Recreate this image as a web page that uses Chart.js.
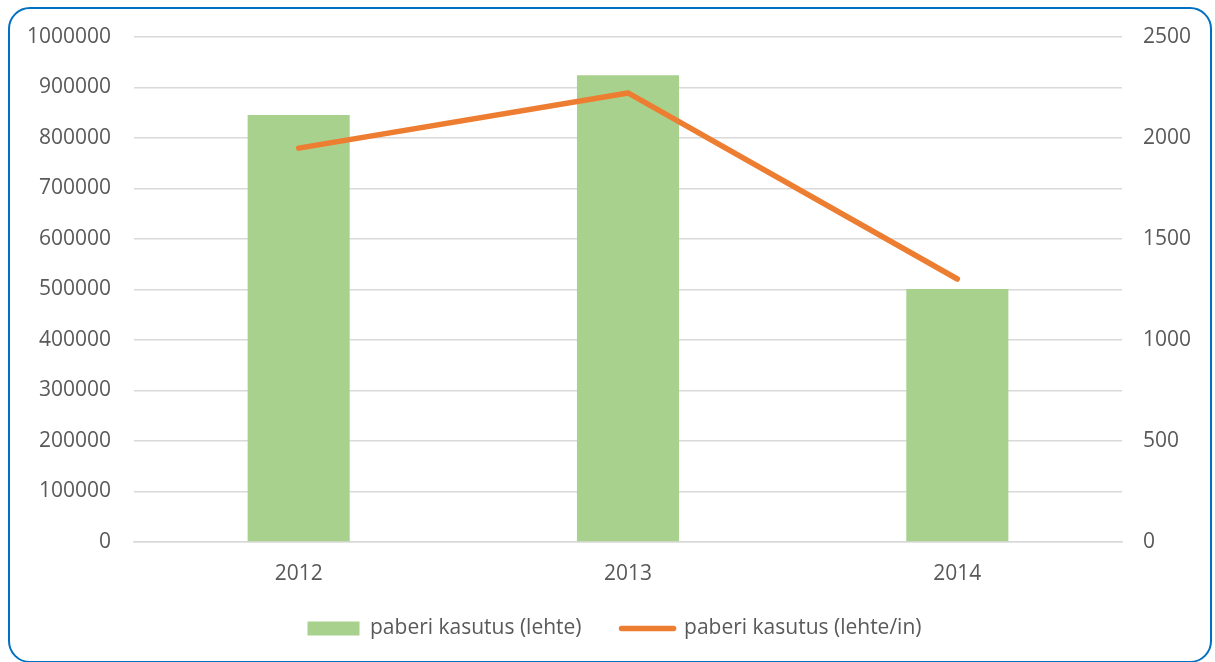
<!DOCTYPE html>
<html>
<head>
<meta charset="utf-8">
<script src="https://cdn.jsdelivr.net/npm/chart.js@4.4.1/dist/chart.umd.min.js"></script>
<style>
  html, body { margin: 0; padding: 0; background: #fff; }
  #wrap { position: relative; width: 1215px; height: 662px; overflow: hidden; }
  #frame { position: absolute; left: 8px; top: 7px; width: 1204px; height: 656px; box-sizing: border-box;
           border: 2.5px solid #0070C0; border-radius: 22px; pointer-events: none; }
  canvas { position: absolute; left: 0; top: 0; }
</style>
</head>
<body>
<div id="wrap">
  <canvas id="c" width="1215" height="662"></canvas>
  <div id="frame"></div>
</div>
<script>
const categories = ['2012', '2013', '2014'];
const sheetsUsed = [845500, 924500, 501000];
const sheetsPerPerson = [1950, 2223, 1302];
const barLabel = 'paberi kasutus (lehte)';
const lineLabel = 'paberi kasutus (lehte/in)';

const FONT = "'Open Sans', sans-serif";
const TXT = '#595959';
const GRID = '#d9d9d9';
const FS = 21;

new Chart(document.getElementById('c'), {
  data: {
    labels: categories,
    datasets: [
      {
        type: 'line', label: lineLabel, data: sheetsPerPerson, yAxisID: 'y2',
        borderColor: '#ED7D31', backgroundColor: '#ED7D31', borderWidth: 5.5,
        borderCapStyle: 'round', borderJoinStyle: 'round',
        pointRadius: 0, pointHoverRadius: 0, tension: 0, order: 0
      },
      {
        type: 'bar', label: barLabel, data: sheetsUsed, yAxisID: 'y',
        backgroundColor: '#A9D18E', borderWidth: 0,
        categoryPercentage: 1.0, barPercentage: 0.31, order: 1
      }
    ]
  },
  options: {
    responsive: false, animation: false,
    layout: { padding: { top: 37, bottom: 13, left: 14, right: 0 } },
    plugins: {
      tooltip: { enabled: false },
      legend: {
        position: 'bottom', reverse: true,
        labels: {
          font: { family: FONT, size: FS }, color: TXT,
          usePointStyle: true, pointStyleWidth: 52, boxHeight: 14, padding: 40,
          generateLabels(chart) {
            return chart.data.datasets.map((ds, i) => ({
              text: ds.label, datasetIndex: i, fontColor: TXT,
              fillStyle: ds.backgroundColor,
              strokeStyle: ds.type === 'line' ? ds.borderColor : 'rgba(0,0,0,0)',
              lineWidth: ds.type === 'line' ? 5.5 : 0,
              lineCap: 'round',
              pointStyle: ds.type === 'line' ? 'line' : 'rect',
              hidden: false
            }));
          }
        }
      }
    },
    scales: {
      x: {
        grid: { display: false, drawTicks: false },
        border: { color: GRID, width: 1.5 },
        ticks: { font: { family: FONT, size: FS }, color: TXT, padding: 19 },
        afterFit(s) { s.height = 36; s._computeLabelArea = () => undefined; }
      },
      y: {
        position: 'left', min: 0, max: 1000000,
        ticks: { stepSize: 100000, font: { family: FONT, size: FS }, color: TXT, padding: 23,
                 callback: v => String(v) },
        grid: { color: GRID, lineWidth: 1.5, drawTicks: false },
        border: { display: false },
        afterFit(s) { s.width = 120; }
      },
      y2: {
        position: 'right', min: 0, max: 2500,
        ticks: { stepSize: 500, font: { family: FONT, size: FS }, color: TXT, padding: 21,
                 callback: v => String(v) },
        grid: { display: false, drawTicks: false },
        border: { display: false },
        afterFit(s) { s.width = 93; }
      }
    }
  }
});
</script>
</body>
</html>
